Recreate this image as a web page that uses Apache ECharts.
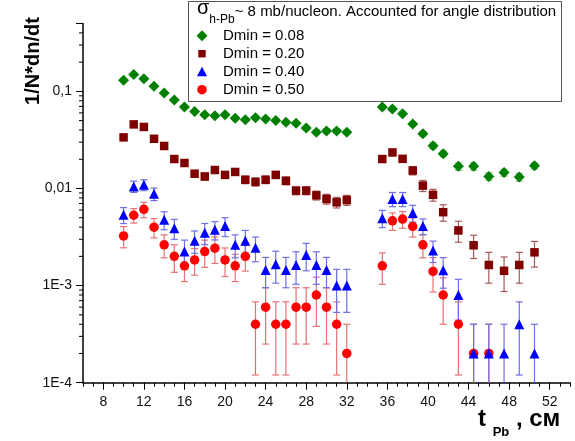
<!DOCTYPE html>
<html>
<head>
<meta charset="utf-8">
<title>1/N*dn/dt vs t_Pb</title>
<script src="https://cdn.jsdelivr.net/npm/echarts@6.0.0/dist/echarts.min.js"></script>
<style>
  html, body { margin: 0; padding: 0; background: #fff; }
  #chart { width: 575px; height: 441px; }
</style>
</head>
<body>
<div id="chart"></div>
<script>
// t_Pb positions, cm
var xLeft = [10, 11, 12, 13, 14, 15, 16, 17, 18, 19, 20, 21, 22, 23, 24, 25, 26, 27, 28, 29, 30, 31, 32]
var xRight = [35.5, 36.5, 37.5, 38.5, 39.5, 40.5, 41.5, 43, 44.5, 46, 47.5, 49, 50.5]

// Dmin = 0.08
var greenLeft = [0.130, 0.149, 0.135, 0.113, 0.096, 0.0815, 0.069, 0.062, 0.0575, 0.056, 0.0575, 0.053, 0.051, 0.0535, 0.052, 0.050, 0.048, 0.047, 0.042, 0.038, 0.039, 0.039, 0.038]
var greenRight = [0.069, 0.066, 0.059, 0.046, 0.0366, 0.0276, 0.0228, 0.0169, 0.0169, 0.0133, 0.0146, 0.0131, 0.0171]
var greenErrLeft = [0.004, 0.004, 0.004, 0.003, 0.003, 0.002, 0.002, 0.002, 0.002, 0.002, 0.002, 0.002, 0.002, 0.002, 0.002, 0.002, 0.002, 0.002, 0.002, 0.002, 0.002, 0.002, 0.002]
var greenErrRight = [0.003, 0.003, 0.003, 0.002, 0.002, 0.002, 0.0015, 0.0015, 0.0015, 0.0012, 0.0012, 0.0012, 0.0012]

// Dmin = 0.20
var brownLeft = [0.0336, 0.0457, 0.043, 0.0325, 0.0274, 0.0201, 0.0183, 0.0142, 0.0133, 0.0155, 0.0138, 0.0148, 0.0123, 0.0117, 0.0123, 0.0138, 0.0120, 0.0095, 0.0095, 0.0085, 0.0078, 0.0072, 0.0076]
var brownRight = [0.0201, 0.0235, 0.0202, 0.0153, 0.0107, 0.0086, 0.0057, 0.0037, 0.0026, 0.00163, 0.00142, 0.00163, 0.0022]
var brownErrLeft = [0.0012, 0.0015, 0.0015, 0.0012, 0.001, 0.001, 0.001, 0.0011, 0.0011, 0.0011, 0.0011, 0.0011, 0.0011, 0.0011, 0.0011, 0.0011, 0.0011, 0.0009, 0.0009, 0.0009, 0.0009, 0.0009, 0.0009]
var brownErrRight = [0.0015, 0.0015, 0.0015, 0.0015, 0.0014, 0.0012, 0.0011, 0.0009, 0.0007, 0.00057, 0.00055, 0.00057, 0.00065]

// Dmin = 0.40
var blueLeft = [0.00535, 0.0105, 0.0109, 0.0088, 0.00476, 0.0039, 0.00224, 0.0029, 0.0035, 0.00375, 0.0041, 0.00263, 0.0029, 0.00246, 0.00145, 0.00166, 0.00145, 0.00163, 0.00207, 0.00163, 0.00145, 0.001, 0.001]
var blueRight = [0.00495, 0.0078, 0.0078, 0.0056, 0.0041, 0.0023, 0.00144, 0.0008, 0.0002, 0.0002, 0.0002, 0.0004, 0.0002]
var blueErrLeft = [0.001, 0.0014, 0.0014, 0.0013, 0.001, 0.0009, 0.0007, 0.00075, 0.00086, 0.0008, 0.0009, 0.0007, 0.0008, 0.0007, 0.0005, 0.0006, 0.0005, 0.0006, 0.00065, 0.0006, 0.0005, 0.00047, 0.00047]
var blueErrRight = [0.001, 0.0013, 0.0013, 0.0011, 0.00075, 0.00057, 0.0005, 0.00036, 0.0002, 0.0002, 0.0002, 0.00028, 0.0002]

// Dmin = 0.50
var redLeft = [0.00325, 0.0053, 0.0061, 0.004, 0.00263, 0.002, 0.0016, 0.00184, 0.00224, 0.00243, 0.00184, 0.0016, 0.002, 0.0004, 0.0006, 0.0004, 0.0004, 0.0006, 0.0006, 0.0008, 0.0006, 0.0004, 0.0002]
var redRight = [0.0016, 0.00465, 0.00484, 0.00406, 0.00263, 0.0014, 0.0008, 0.0004, 0.0002, 0.0002]
var redErrLeft = [0.0008, 0.0009, 0.0011, 0.0009, 0.0007, 0.00063, 0.0005, 0.00056, 0.0007, 0.00074, 0.0006, 0.0005, 0.00059, 0.00028, 0.00035, 0.00028, 0.00028, 0.00035, 0.00035, 0.00042, 0.00035, 0.00028, 0.0002]
var redErrRight = [0.00057, 0.00095, 0.00095, 0.0009, 0.0007, 0.00054, 0.0004, 0.00028, 0.0002, 0.0002]

var seriesNames = ['Dmin = 0.08', 'Dmin = 0.20', 'Dmin = 0.40', 'Dmin = 0.50']
var yTickLabels = ['1E-4', '1E-3', '0,01', '0,1']
var yMinorTicks = [2e-4, 3e-4, 4e-4, 5e-4, 6e-4, 7e-4, 8e-4, 9e-4,
  2e-3, 3e-3, 4e-3, 5e-3, 6e-3, 7e-3, 8e-3, 9e-3,
  0.02, 0.03, 0.04, 0.05, 0.06, 0.07, 0.08, 0.09,
  0.2, 0.3, 0.4]

var X_MIN = 6, X_MAX = 54
var Y_MIN = 1e-4, Y_MAX = 0.5
var FONT = '"Liberation Sans", Arial, sans-serif'

function pts (xs, ys) {
  return ys.map(function (y, i) { return [xs[i], y] })
}
function errPts (xs, ys, es) {
  return ys.map(function (y, i) { return [xs[i], y, es[i]] })
}

function errorBars (color) {
  return function (params, api) {
    var x = api.value(0), v = api.value(1), e = api.value(2)
    var low = v - e
    var clipped = low <= Y_MIN * 1.0001
    var top = api.coord([x, v + e])
    var bot = api.coord([x, clipped ? Y_MIN : low])
    var cap = 3.5
    var st = { stroke: color, lineWidth: 1.2 }
    var children = [
      { type: 'line', shape: { x1: top[0], y1: top[1], x2: bot[0], y2: bot[1] }, style: st },
      { type: 'line', shape: { x1: top[0] - cap, y1: top[1], x2: top[0] + cap, y2: top[1] }, style: st }
    ]
    if (!clipped) {
      children.push({ type: 'line', shape: { x1: bot[0] - cap, y1: bot[1], x2: bot[0] + cap, y2: bot[1] }, style: st })
    }
    return { type: 'group', children: children }
  }
}

function errSeries (name, color, data) {
  return {
    name: name, type: 'custom', silent: true, z: 2,
    xAxisIndex: 0, yAxisIndex: 0,
    encode: { x: 0, y: 1 },
    renderItem: errorBars(color),
    data: data
  }
}

// legend icons: the extra moveTo points keep a 32x11 box so the shapes are not stretched
var legendIcons = [
  'path://M0,0M32,11M16,0L21.5,5.5L16,11L10.5,5.5Z',
  'path://M0,0M32,11M12.3,1.8H19.7V9.2H12.3Z',
  'path://M0,0M32,11M16,0.5L21,10L11,10Z',
  'path://M0,0M32,11M11.25,5.5A4.75,4.75,0,1,0,20.75,5.5A4.75,4.75,0,1,0,11.25,5.5Z'
]

var chart = echarts.init(document.getElementById('chart'), null, { renderer: 'canvas' })

var option = {
  animation: false,
  backgroundColor: '#fff',
  title: {
    left: 197, top: -2, padding: 0,
    text: '{s|σ}{sub|h-Pb}{m|~ 8 mb/nucleon. Accounted for angle distribution}',
    textStyle: {
      fontWeight: 'normal',
      rich: {
        s: { fontFamily: FONT, fontWeight: 'normal', fontSize: 20, color: '#000', lineHeight: 22, verticalAlign: 'top' },
        sub: { fontFamily: FONT, fontWeight: 'normal', fontSize: 12, color: '#000', lineHeight: 14, verticalAlign: 'bottom' },
        m: { fontFamily: FONT, fontWeight: 'normal', fontSize: 15, color: '#000', lineHeight: 28, verticalAlign: 'middle' }
      }
    }
  },
  legend: {
    orient: 'vertical', left: 186, top: 27.7, padding: 0,
    itemWidth: 32, itemHeight: 11, itemGap: 2,
    textStyle: { fontFamily: FONT, fontSize: 15, color: '#000', lineHeight: 16 },
    data: seriesNames.map(function (n, i) { return { name: n, icon: legendIcons[i] } })
  },
  graphic: [
    { type: 'rect', left: 186, top: -1, silent: true, z: 0,
      shape: { width: 373, height: 100 }, style: { fill: 'none', stroke: '#555', lineWidth: 1 } },
    { type: 'text', x: 33, y: 61, rotation: Math.PI / 2, silent: true,
      style: { text: '1/N*dn/dt', x: 0, y: 0, align: 'center', verticalAlign: 'middle',
        font: 'bold 20px ' + FONT, fill: '#000' } },
    { type: 'text', x: 478, y: 399, silent: true,
      style: {
        text: '{t|t }{s|Pb}{t| , см}', x: 0, y: 0, verticalAlign: 'top',
        rich: {
          t: { fontFamily: FONT, fontWeight: 'bold', fontSize: 24, lineHeight: 40, verticalAlign: 'middle', fill: '#000' },
          s: { fontFamily: FONT, fontWeight: 'bold', fontSize: 13, lineHeight: 16, verticalAlign: 'bottom', fill: '#000' }
        }
      } }
  ],
  grid: [
    { left: 83, right: 5, top: 23.5, bottom: 58.3 },
    { left: 103.29, right: 25.29, top: 23.5, bottom: 58.3 }
  ],
  xAxis: [
    {
      gridIndex: 0, type: 'value', min: X_MIN, max: X_MAX, interval: 1,
      axisLine: { lineStyle: { color: '#000', width: 1.5 } },
      axisTick: { length: 4, lineStyle: { color: '#000', width: 1 } },
      axisLabel: { show: false },
      splitLine: { show: false }
    },
    {
      gridIndex: 1, type: 'value', min: 8, max: 52, interval: 4,
      axisLine: { show: false },
      axisTick: { length: 7, lineStyle: { color: '#000', width: 1 } },
      axisLabel: { margin: 12, fontFamily: FONT, fontSize: 14, color: '#111' },
      splitLine: { show: false }
    }
  ],
  yAxis: [
    {
      gridIndex: 0, type: 'log', logBase: 10, min: Y_MIN, max: Y_MAX,
      axisLine: { show: true, lineStyle: { color: '#000', width: 1.5 } },
      axisTick: { show: true, length: 7, lineStyle: { color: '#000', width: 1 } },
      axisLabel: {
        margin: 11, fontFamily: FONT, fontSize: 14, color: '#111',
        formatter: function (v) {
          var lg = Math.log10(v)
          var p = Math.round(lg)
          if (Math.abs(lg - p) > 1e-6) return ''
          return yTickLabels[p + 4] || ''
        }
      },
      splitLine: { show: false }
    },
    { gridIndex: 1, type: 'value', show: false }
  ],
  series: [
    {
      name: 'minor-ticks', type: 'custom', silent: true, z: 1,
      xAxisIndex: 0, yAxisIndex: 0, encode: { x: 0, y: 1 },
      data: yMinorTicks.map(function (v) { return [X_MIN, v] }),
      renderItem: function (params, api) {
        var p = api.coord([api.value(0), api.value(1)])
        return { type: 'line', shape: { x1: p[0] - 4, y1: p[1], x2: p[0], y2: p[1] },
          style: { stroke: '#000', lineWidth: 1 } }
      }
    },
    errSeries('err-green', '#7fbf7f', errPts(xLeft, greenLeft, greenErrLeft).concat(errPts(xRight, greenRight, greenErrRight))),
    errSeries('err-brown', '#a35a5a', errPts(xLeft, brownLeft, brownErrLeft).concat(errPts(xRight, brownRight, brownErrRight))),
    errSeries('err-red', '#e87272', errPts(xLeft, redLeft, redErrLeft).concat(errPts(xRight, redRight, redErrRight))),
    errSeries('err-blue', '#6e6ee8', errPts(xLeft, blueLeft, blueErrLeft).concat(errPts(xRight, blueRight, blueErrRight))),
    {
      name: seriesNames[0], type: 'scatter', symbol: 'diamond', symbolSize: 11, z: 3,
      itemStyle: { color: '#008000', opacity: 1 },
      data: pts(xLeft, greenLeft).concat(pts(xRight, greenRight))
    },
    {
      name: seriesNames[1], type: 'scatter', symbol: 'rect', symbolSize: 8.5, z: 3,
      itemStyle: { color: '#800000', opacity: 1 },
      data: pts(xLeft, brownLeft).concat(pts(xRight, brownRight))
    },
    {
      name: seriesNames[3], type: 'scatter', symbol: 'circle', symbolSize: 9.5, z: 3,
      itemStyle: { color: '#ff0000', opacity: 1 },
      data: pts(xLeft, redLeft).concat(pts(xRight, redRight))
    },
    {
      name: seriesNames[2], type: 'scatter', symbol: 'triangle', symbolSize: 10, z: 3,
      itemStyle: { color: '#0000ff', opacity: 1 },
      data: pts(xLeft, blueLeft).concat(pts(xRight, blueRight))
    }
  ]
}

chart.setOption(option)
</script>
</body>
</html>
